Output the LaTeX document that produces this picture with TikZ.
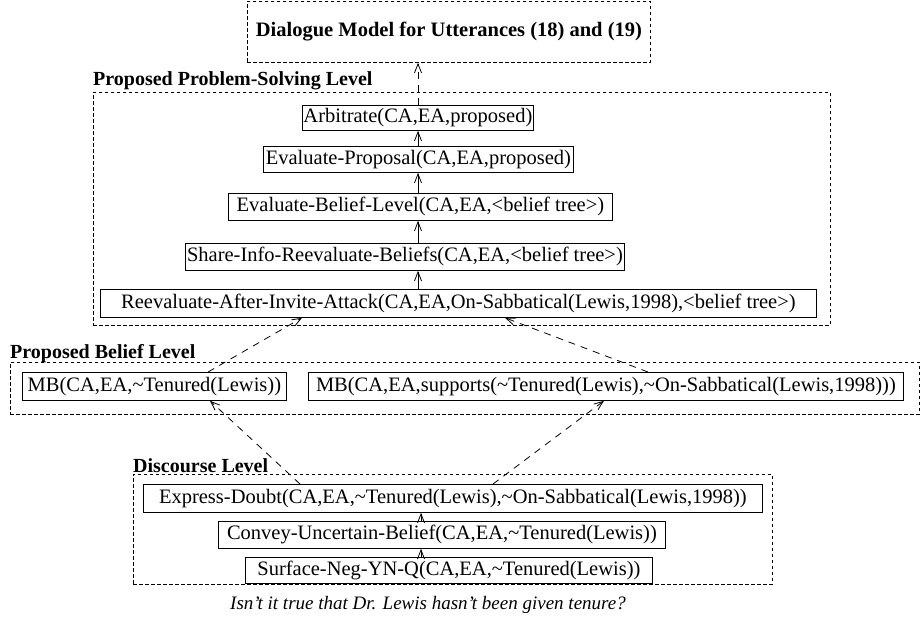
\documentclass[tikz,border=0pt]{standalone}
\usepackage{fontspec}
\setmainfont{Liberation Serif}
\usetikzlibrary{arrows.meta,calc}
\begin{document}
\begin{tikzpicture}[x=1pt,y=-1pt,
  every node/.style={font=\fontsize{20.5}{24}\selectfont},
  box/.style={draw, line width=0.8pt, inner sep=0pt, anchor=north west},
  grp/.style={draw, line width=0.8pt, dash pattern=on 3.5pt off 2.5pt, inner sep=0pt, anchor=north west},
  lvl/.style={font=\fontsize{20}{24}\selectfont\bfseries, inner sep=0pt, anchor=west},
  arr/.style={line width=0.8pt, -{Straight Barb[length=9pt,width=7pt]}},
  darr/.style={line width=0.8pt, dash pattern=on 7pt off 6pt, -{Straight Barb[length=9pt,width=7pt]}}
]
\useasboundingbox (0,0) rectangle (920,619);

% top box
\node[grp, minimum width=403pt, minimum height=61pt, font=\fontsize{20.5}{24}\selectfont\bfseries] (top) at (247,1) {Dialogue Model for Utterances (18) and (19)};

% problem-solving level
\node[lvl] (pslab) at (93,81) {Proposed Problem-Solving Level};
\node[grp, minimum width=737pt, minimum height=233pt] (ps) at (93,92) {};
\node[box, minimum width=231pt, minimum height=25pt] (arb) at (302,105) {Arbitrate(CA,EA,proposed)};
\node[box, minimum width=310pt, minimum height=26pt] (evprop) at (263,146) {Evaluate-Proposal(CA,EA,proposed)};
\node[box, minimum width=384pt, minimum height=27pt] (evbel) at (228,193) {Evaluate-Belief-Level(CA,EA,<belief tree>)};
\node[box, minimum width=439pt, minimum height=27pt] (share) at (185,243) {Share-Info-Reevaluate-Beliefs(CA,EA,<belief tree>)};
\node[box, minimum width=716pt, minimum height=28pt] (reeval) at (100,289) {Reevaluate-After-Invite-Attack(CA,EA,On-Sabbatical(Lewis,1998),<belief tree>)};

% belief level
\node[lvl] (bellab) at (10,354) {Proposed Belief Level};
\node[grp, minimum width=909pt, minimum height=52pt] (bel) at (10,362) {};
\node[box, minimum width=264pt, minimum height=28pt] (mbl) at (22,372) {MB(CA,EA,\textasciitilde Tenured(Lewis))};
\node[box, minimum width=595pt, minimum height=28pt] (mbr) at (308,372) {MB(CA,EA,supports(\textasciitilde Tenured(Lewis),\textasciitilde On-Sabbatical(Lewis,1998)))};

% discourse level
\node[lvl] (dislab) at (133,466) {Discourse Level};
\node[grp, minimum width=639pt, minimum height=110pt] (dis) at (133,474) {};
\node[box, minimum width=619pt, minimum height=28pt] (express) at (143,484) {Express-Doubt(CA,EA,\textasciitilde Tenured(Lewis),\textasciitilde On-Sabbatical(Lewis,1998))};
\node[box, minimum width=447pt, minimum height=27pt] (convey) at (218,521) {Convey-Uncertain-Belief(CA,EA,\textasciitilde Tenured(Lewis))};
\node[box, minimum width=407pt, minimum height=26pt] (surface) at (245,557) {Surface-Neg-YN-Q(CA,EA,\textasciitilde Tenured(Lewis))};

\node[font=\fontsize{19}{22}\selectfont\itshape, inner sep=0pt] (cap) at (428,605) {Isn't it true that Dr. Lewis hasn't been given tenure?};

% vertical arrows
\coordinate (ax) at (418,0);
\coordinate (dx) at (421,0);
\draw[darr] (arb.north -| ax) -- (top.south -| ax);
\draw[arr] (evprop.north -| ax) -- (arb.south -| ax);
\draw[arr] (evbel.north -| ax) -- (evprop.south -| ax);
\draw[arr] (share.north -| ax) -- (evbel.south -| ax);
\draw[arr] (reeval.north -| ax) -- (share.south -| ax);
\draw[arr] (convey.north -| dx) -- (express.south -| dx);
\draw[arr] (surface.north -| dx) -- (convey.south -| dx);

% dashed diagonals
\draw[darr] ([xshift=186pt]mbl.north west) -- ([xshift=202pt]reeval.south west);
\draw[darr] ([xshift=340pt]mbr.north west) -- ([xshift=405pt]reeval.south west);
\draw[darr] ([xshift=157pt]express.north west) -- ([xshift=188pt]mbl.south west);
\draw[darr] ([xshift=350pt]express.north west) -- ([xshift=296pt]mbr.south west);
\end{tikzpicture}
\end{document}
